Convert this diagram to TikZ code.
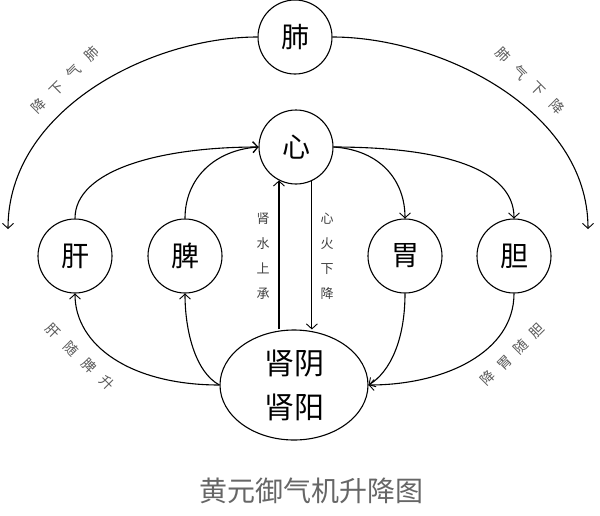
\documentclass[tikz,border=0pt]{standalone}
\usepackage{fontspec}
\newfontfamily\cjk{Noto Sans CJK SC}
\usetikzlibrary{arrows.meta,shapes.geometric}
\begin{document}
\begin{tikzpicture}[x=1pt,y=-1pt,
  organ/.style={circle,draw,line width=1.1pt,minimum size=74pt,inner sep=0pt,font=\cjk\fontsize{28}{28}\selectfont},
  kidney/.style={ellipse,draw,line width=1.1pt,minimum width=148pt,minimum height=110pt,inner sep=0pt,align=center,font=\cjk\fontsize{30}{44}\selectfont},
  link/.style={line width=1.1pt,-{Straight Barb[length=5pt,width=11pt,line width=0.9pt]}},
  arclabel/.style={font=\cjk\fontsize{14}{14}\selectfont,text=black!65,inner sep=0pt},
  vlabel/.style={font=\cjk\fontsize{13}{25}\selectfont,align=center,text=black!75,inner sep=0pt},
  titlelabel/.style={font=\cjk\fontsize{28}{28}\selectfont,text=black!60,inner sep=0pt}]
\useasboundingbox (0,0) rectangle (600,515);
% organs
\node[organ] (fei) at (295,37) {肺};
\node[organ] (xin) at (296,147) {心};
\node[organ] (gan) at (75,256) {肝};
\node[organ] (pi)  at (185,256) {脾};
\node[organ] (wei) at (405,256) {胃};
\node[organ] (dan) at (514,256) {胆};
\node[kidney] (shen) at (294,385) {肾阴\\肾阳};
% free ends of the lung arcs
\coordinate (lend) at (8,229);
\coordinate (rend) at (588,229);
% lung descending arcs
\draw[link] (fei.west) .. controls (150,37) and (8,110) .. (lend);
\draw[link] (fei.east) .. controls (440,37) and (588,110) .. (rend);
% to heart
\draw[link] (gan.north) .. controls (75,170) and (160,147) .. (xin.west);
\draw[link] (pi.north) .. controls (185,178) and (215,150) .. (xin.west);
% from heart
\draw[link] (xin.east) .. controls (380,150) and (405,180) .. (wei.north);
\draw[link] (xin.east) .. controls (440,147) and (514,168) .. (dan.north);
% from kidney up
\draw[link] (shen.west) .. controls (130,385) and (75,345) .. (gan.south);
\draw[link] (shen.west) .. controls (195,372) and (185,330) .. (pi.south);
% to kidney
\draw[link] (wei.south) .. controls (405,340) and (390,372) .. (shen.east);
\draw[link] (dan.south) .. controls (514,352) and (445,385) .. (shen.east);
% vertical water / fire lines
\draw[link] (xin.243 |- shen.north) -- (xin.243);
\draw[link] (xin.295) -- (xin.295 |- shen.north);
\node[vlabel] (vl) at (263,256) {肾\\水\\上\\承};
\node[vlabel] (vr) at (327,256) {心\\火\\下\\降};
% arc labels
\node[arclabel,rotate=45] at (92,54) {肺};
\node[arclabel,rotate=45] at (74,72) {气};
\node[arclabel,rotate=45] at (57,89) {下};
\node[arclabel,rotate=45] at (39,106) {降};
\node[arclabel,rotate=-45] at (503,55) {肺};
\node[arclabel,rotate=-45] at (520,73) {气};
\node[arclabel,rotate=-45] at (538,89) {下};
\node[arclabel,rotate=-45] at (557,107) {降};
\node[arclabel,rotate=-45] at (53,331) {肝};
\node[arclabel,rotate=-45] at (71,349) {随};
\node[arclabel,rotate=-45] at (89,366) {脾};
\node[arclabel,rotate=-45] at (107,383) {升};
\node[arclabel,rotate=45] at (537,331) {胆};
\node[arclabel,rotate=45] at (521,347) {随};
\node[arclabel,rotate=45] at (505,363) {胃};
\node[arclabel,rotate=45] at (488,378) {降};
% title
\node[titlelabel] (title) at (311,491) {黄元御气机升降图};
\end{tikzpicture}
\end{document}
